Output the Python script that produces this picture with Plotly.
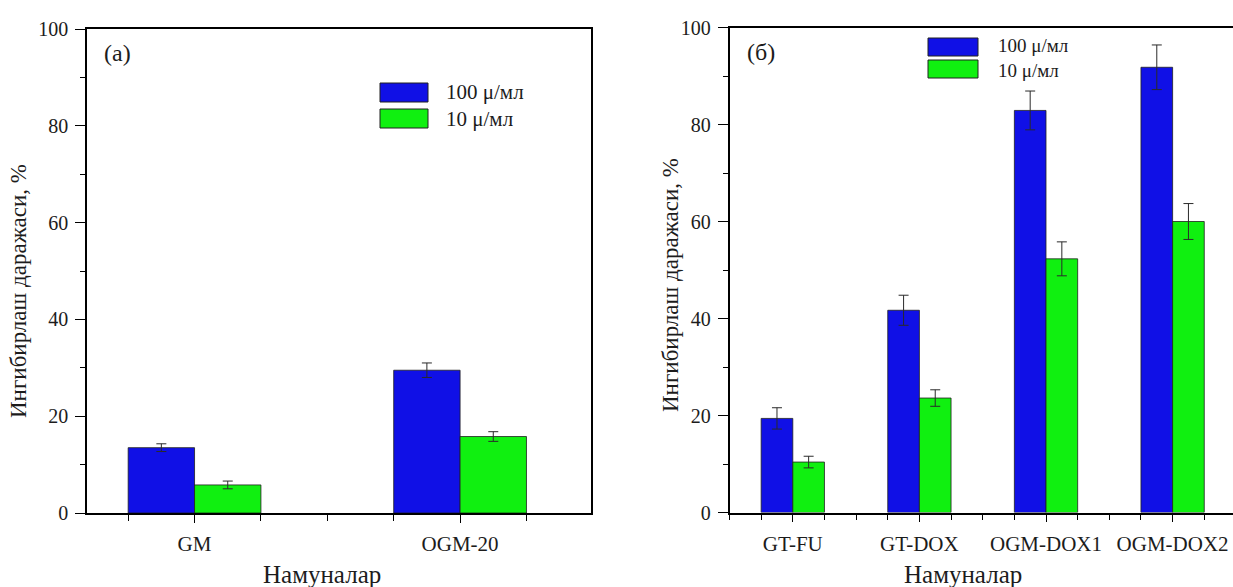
import plotly.graph_objects as go

# ---------------- data ----------------
cats_a = ["GM", "OGM-20"]
a_100 = [13.5, 29.5]
a_100_err = [0.8, 1.5]
a_10 = [5.8, 15.8]
a_10_err = [0.8, 1.0]

cats_b = ["GT-FU", "GT-DOX", "OGM-DOX1", "OGM-DOX2"]
b_100 = [19.4, 41.7, 82.9, 91.8]
b_100_err = [2.2, 3.1, 4.0, 4.6]
b_10 = [10.4, 23.6, 52.3, 60.0]
b_10_err = [1.2, 1.7, 3.5, 3.7]

series_names = ["100 μ/мл", "10 μ/мл"]
panel_labels = ["(a)", "(б)"]
y_title = "Ингибирлаш даражаси, %"
x_title = "Намуналар"
y_ticks = [0, 20, 40, 60, 80, 100]

# ---------------- style ----------------
W, H = 1233, 587
BLUE = "#1010E6"
GREEN = "#10F010"
TXT = "#1c1c1c"
FONT = "Liberation Serif, Times New Roman, serif"


def px(x):
    return x / W


def py(y):
    return 1 - y / H


fig = go.Figure()

xa = list(range(len(cats_a)))
xb = list(range(len(cats_b)))

err_style = dict(type="data", visible=True, color="#2a2a2a", thickness=1, width=5)
bar_line = dict(color="#202020", width=0.8)

fig.add_trace(go.Bar(x=xa, y=a_100, name=series_names[0], marker=dict(color=BLUE, line=bar_line),
                     error_y=dict(array=a_100_err, **err_style), xaxis="x", yaxis="y", showlegend=False))
fig.add_trace(go.Bar(x=xa, y=a_10, name=series_names[1], marker=dict(color=GREEN, line=bar_line),
                     error_y=dict(array=a_10_err, **err_style), xaxis="x", yaxis="y", showlegend=False))
fig.add_trace(go.Bar(x=xb, y=b_100, name=series_names[0], marker=dict(color=BLUE, line=bar_line),
                     error_y=dict(array=b_100_err, **err_style), xaxis="x2", yaxis="y2", showlegend=False))
fig.add_trace(go.Bar(x=xb, y=b_10, name=series_names[1], marker=dict(color=GREEN, line=bar_line),
                     error_y=dict(array=b_10_err, **err_style), xaxis="x2", yaxis="y2", showlegend=False))

xtickfont = dict(family=FONT, size=21, color=TXT)
ytickfont = dict(family=FONT, size=20, color=TXT)

common_x = dict(
    showline=True, linecolor="black", linewidth=1.6, mirror=True,
    ticks="outside", ticklen=8, tickwidth=1.4, tickcolor="black",
    minor=dict(dtick=0.25, tick0=0, ticks="outside", ticklen=6, tickwidth=1.2, tickcolor="black", showgrid=False),
    showgrid=False, zeroline=False, tickfont=xtickfont, ticklabelstandoff=3,
    ticklabeloverflow="allow", automargin=False,
)
common_y = dict(
    showline=True, linecolor="black", linewidth=1.6,
    ticks="outside", ticklen=10, tickwidth=1.4, tickcolor="black",
    minor=dict(dtick=10, ticks="outside", ticklen=5, tickwidth=1.2, tickcolor="black", showgrid=False),
    showgrid=False, zeroline=False, tickfont=ytickfont, range=[0, 100],
    tickvals=y_ticks, ticklabelstandoff=3, automargin=False,
)

fig.update_layout(
    width=W, height=H, autosize=False,
    margin=dict(l=0, r=0, t=0, b=0, pad=0, autoexpand=False),
    paper_bgcolor="white", plot_bgcolor="white",
    barmode="group", bargap=0.5, bargroupgap=0,
    showlegend=False,
    xaxis=dict(domain=[px(87), px(591)], range=[-0.405, 1.493], tickvals=xa, ticktext=cats_a,
               anchor="y", **common_x),
    yaxis=dict(domain=[py(513), py(29)], anchor="x", mirror=True, **common_y),
    xaxis2=dict(domain=[px(729.5), 1.0], range=[-0.5, 3.477], tickvals=xb, ticktext=cats_b,
                anchor="y2", **common_x),
    yaxis2=dict(domain=[py(512.5), py(27.5)], anchor="x2", mirror=False, **common_y),
)

ann = []
ytitle_font = dict(family=FONT, size=23, color=TXT)
xtitle_font = dict(family=FONT, size=25, color=TXT)
label_font = dict(family=FONT, size=24, color=TXT)
# axis titles
ann.append(dict(text=y_title, x=px(18), y=py(291), xref="paper", yref="paper", textangle=-90,
                showarrow=False, xanchor="center", yanchor="middle", font=ytitle_font))
ann.append(dict(text=y_title, x=px(670), y=py(285), xref="paper", yref="paper", textangle=-90,
                showarrow=False, xanchor="center", yanchor="middle", font=ytitle_font))
ann.append(dict(text=x_title, x=px(322), y=py(574), xref="paper", yref="paper",
                showarrow=False, xanchor="center", yanchor="middle", font=xtitle_font))
ann.append(dict(text=x_title, x=px(963), y=py(574), xref="paper", yref="paper",
                showarrow=False, xanchor="center", yanchor="middle", font=xtitle_font))
# panel labels
ann.append(dict(text=panel_labels[0], x=px(117), y=py(53), xref="paper", yref="paper",
                showarrow=False, xanchor="center", yanchor="middle", font=label_font))
ann.append(dict(text=panel_labels[1], x=px(761), y=py(52), xref="paper", yref="paper",
                showarrow=False, xanchor="center", yanchor="middle", font=label_font))

shapes = []
# custom legends (swatch boxes + two-line text)
legends = [
    dict(x0=380, x1=428, rows=[(83, 102), (109, 128)], tx=444, size=21),
    dict(x0=928, x1=978, rows=[(38, 56), (60, 78)], tx=996, size=19),
]
for lg in legends:
    for (y0, y1), col in zip(lg["rows"], [BLUE, GREEN]):
        shapes.append(dict(type="rect", xref="paper", yref="paper", x0=px(lg["x0"]), x1=px(lg["x1"]),
                           y0=py(y1), y1=py(y0), fillcolor=col, line=dict(color="#202020", width=1)))
    yc = (lg["rows"][0][0] + lg["rows"][1][1]) / 2
    ann.append(dict(text="<br>".join(series_names), x=px(lg["tx"]), y=py(yc), xref="paper", yref="paper",
                    showarrow=False, xanchor="left", yanchor="middle", align="left",
                    font=dict(family=FONT, size=lg["size"], color=TXT)))

fig.update_layout(annotations=ann, shapes=shapes)

fig.write_html(
    "out.html",
    config={"responsive": False, "displayModeBar": False},
    post_script="document.documentElement.style.margin='0';document.body.style.margin='0';"
                "document.body.style.padding='0';document.body.style.overflow='hidden';",
)
